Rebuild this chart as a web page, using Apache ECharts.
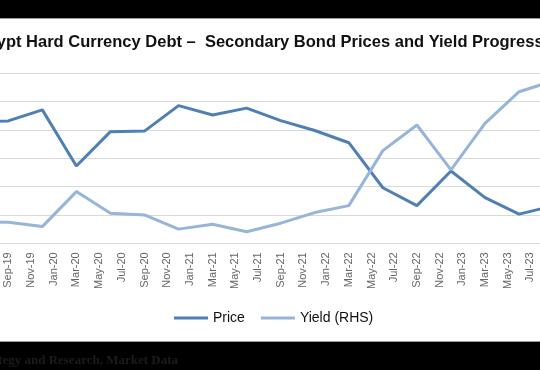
<!DOCTYPE html>
<html>
<head>
<meta charset="utf-8">
<script src="https://cdn.jsdelivr.net/npm/echarts@6/dist/echarts.min.js"></script>
<style>
  html, body { margin: 0; padding: 0; width: 540px; height: 370px; overflow: hidden; background: #000; }
  #wrap { position: absolute; left: 0; top: 0; width: 540px; height: 370px; overflow: hidden; background: #000; }
  #chart { position: absolute; left: -60px; top: 0; width: 660px; height: 370px; }
</style>
</head>
<body>
<div id="wrap"><div id="chart"></div></div>
<script>
// Monthly category axis (labels shown every second month)
const months = [
  'May-19','Jun-19','Jul-19','Aug-19','Sep-19','Oct-19','Nov-19','Dec-19',
  'Jan-20','Feb-20','Mar-20','Apr-20','May-20','Jun-20','Jul-20','Aug-20','Sep-20','Oct-20','Nov-20','Dec-20',
  'Jan-21','Feb-21','Mar-21','Apr-21','May-21','Jun-21','Jul-21','Aug-21','Sep-21','Oct-21','Nov-21','Dec-21',
  'Jan-22','Feb-22','Mar-22','Apr-22','May-22','Jun-22','Jul-22','Aug-22','Sep-22','Oct-22','Nov-22','Dec-22',
  'Jan-23','Feb-23','Mar-23','Apr-23','May-23','Jun-23','Jul-23','Aug-23','Sep-23'
];
// Quarterly observations
const obsDates = ['Jun-19','Sep-19','Dec-19','Mar-20','Jun-20','Sep-20','Dec-20','Mar-21','Jun-21',
                  'Sep-21','Dec-21','Mar-22','Jun-22','Sep-22','Dec-22','Mar-23','Jun-23','Sep-23'];
const priceValues = [83.0, 83.2, 87.1, 67.3, 79.4, 79.6, 88.6, 85.3, 87.7,
                     83.3, 79.8, 75.5, 59.6, 53.3, 65.5, 56.1, 50.3, 53.2];
const yieldValues = [5.5, 5.49, 5.18, 7.65, 6.12, 6.0, 5.0, 5.35, 4.82,
                     5.42, 6.17, 6.66, 10.54, 12.35, 9.18, 12.47, 14.7, 15.46];

const titleText = 'Egypt Hard Currency Debt \u2013  Secondary Bond Prices and Yield Progression';
const sourceText = 'Source: Strategy and Research, Market Data';

function toMonthly(vals) {
  const out = months.map(() => null);
  obsDates.forEach((d, i) => { out[months.indexOf(d)] = vals[i]; });
  return out;
}

const chart = echarts.init(document.getElementById('chart'), null, { renderer: 'canvas' });
const gray = '#d9d9d9';
chart.setOption({
  backgroundColor: '#ffffff',
  animation: false,
  legend: {
    left: 234,
    top: 311,
    icon: 'rect',
    itemWidth: 34,
    itemHeight: 3,
    itemGap: 16,
    padding: 0,
    textStyle: { fontFamily: 'Liberation Sans, Arial, sans-serif', fontSize: 14, color: '#111' },
    data: ['Price', 'Yield (RHS)']
  },
  grid: { left: 17.2, right: 41.2, top: 73.3, bottom: 126.7 },
  xAxis: {
    type: 'category',
    data: months,
    boundaryGap: true,
    axisLine: { lineStyle: { color: gray, width: 1 } },
    axisTick: { interval: 1, length: 5, lineStyle: { color: gray } },
    axisLabel: {
      interval: 1, rotate: 90, margin: 9,
      fontFamily: 'Liberation Sans, Arial, sans-serif', fontSize: 11, color: '#666'
    },
    splitLine: { show: false }
  },
  yAxis: [
    { type: 'value', min: 40, max: 100, interval: 10,
      axisLabel: { show: false }, axisLine: { show: false }, axisTick: { show: false },
      splitLine: { lineStyle: { color: gray, width: 1 } } },
    { type: 'value', min: 4, max: 16, interval: 2,
      axisLabel: { show: false }, axisLine: { show: false }, axisTick: { show: false },
      splitLine: { show: false } }
  ],
  series: [
    { name: 'Price', type: 'line', yAxisIndex: 0, data: toMonthly(priceValues), connectNulls: true,
      symbol: 'none', lineStyle: { color: '#4f7fb4', width: 3 }, itemStyle: { color: '#4f7fb4' } },
    { name: 'Yield (RHS)', type: 'line', yAxisIndex: 1, data: toMonthly(yieldValues), connectNulls: true,
      symbol: 'none', lineStyle: { color: '#96b5d8', width: 3 }, itemStyle: { color: '#96b5d8' } }
  ],
  graphic: [
    { type: 'text', x: 332, y: 42, z: 50,
      style: { text: titleText, textAlign: 'center', textVerticalAlign: 'middle',
               font: 'bold 16.5px "Liberation Sans", Arial, sans-serif', fill: '#111' } },
    { type: 'rect', shape: { x: 0, y: 0, width: 660, height: 18 }, style: { fill: '#000' }, z: 100 },
    { type: 'rect', shape: { x: 0, y: 18, width: 660, height: 1 }, style: { fill: '#9a9a9a' }, z: 100 },
    { type: 'rect', shape: { x: 0, y: 341, width: 660, height: 1 }, style: { fill: '#9a9a9a' }, z: 100 },
    { type: 'rect', shape: { x: 0, y: 342, width: 660, height: 28 }, style: { fill: '#000' }, z: 100 },
    { type: 'text', x: 238, y: 361, z: 101,
      style: { text: sourceText, textAlign: 'right', textVerticalAlign: 'middle',
               font: 'bold 13px "Liberation Serif", serif', fill: '#1c1c1c' } }
  ]
});
</script>
</body>
</html>
